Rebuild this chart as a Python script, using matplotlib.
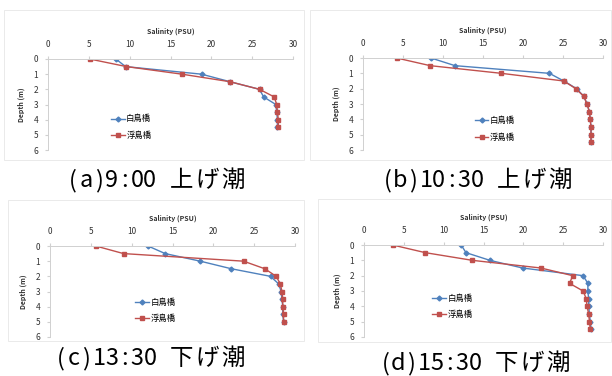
import numpy as np
import matplotlib
matplotlib.use('Agg')
import matplotlib.pyplot as plt
from matplotlib.patches import Rectangle

plt.rcParams['font.family'] = ['Noto Sans CJK JP', 'DejaVu Sans']

### Data (salinity in PSU, depth in m)
depth_a = [0, 0.5, 1, 1.5, 2, 2.5, 3, 3.5, 4, 4.5]
shiratori_a = [8.3, 9.5, 18.8, 22.3, 25.9, 26.4, 27.9, 28.0, 28.1, 28.1]
ukishima_a = [5.1, 9.6, 16.4, 22.3, 25.9, 27.7, 28.0, 28.1, 28.2, 28.2]

depth_b = [0, 0.5, 1, 1.5, 2, 2.5, 3, 3.5, 4, 4.5, 5, 5.5]
shiratori_b = [8.5, 11.5, 23.3, 25.1, 26.7, 27.6, 28.0, 28.3, 28.4, 28.5, 28.5, 28.5]
ukishima_b = [4.2, 8.4, 17.3, 25.1, 26.6, 27.6, 28.0, 28.3, 28.4, 28.5, 28.5, 28.5]

depth_c = [0, 0.5, 1, 1.5, 2, 2.5, 3, 3.5, 4, 4.5, 5]
shiratori_c = [12.0, 14.1, 18.4, 22.2, 27.0, 28.0, 28.3, 28.4, 28.5, 28.5, 28.6]
ukishima_c = [5.6, 9.0, 23.7, 26.3, 27.7, 28.2, 28.4, 28.5, 28.5, 28.6, 28.6]

depth_d = [0, 0.5, 1, 1.5, 2, 2.5, 3, 3.5, 4, 4.5, 5, 5.5]
shiratori_d = [12.2, 12.8, 15.8, 19.9, 27.5, 28.1, 28.1, 28.2, 28.2, 28.3, 28.4, 28.5]
ukishima_d = [3.6, 7.7, 13.6, 22.2, 26.2, 25.8, 27.5, 27.9, 28.0, 28.2, 28.3, 28.4]

captions = ['(a)9:00 上げ潮', '(b)10:30 上げ潮',
            '(c)13:30 下げ潮', '(d)15:30 下げ潮']
series_names = ['白鳥橋', '浮島橋']
x_ticks = [0, 5, 10, 15, 20, 25, 30]
y_ticks = [0, 1, 2, 3, 4, 5, 6]

W, H = 612, 376
fig = plt.figure(figsize=(W / 100, H / 100), dpi=100)

# layout in pixels: axes (left, top, right, bottom), legend centre (axes frac),
# caption centre x / baseline y, chart area box
panels = [
    dict(ax=(48, 59, 293, 150), leg=(0.34, 0.25), cap=(156, 187), box=(4, 10, 304, 160),
         depth=depth_a, s1=shiratori_a, s2=ukishima_a),
    dict(ax=(363, 58, 603, 150), leg=(0.55, 0.23), cap=(477, 187), box=(310, 10, 611, 160),
         depth=depth_b, s1=shiratori_b, s2=ukishima_b),
    dict(ax=(50, 246, 295, 337), leg=(0.43, 0.29), cap=(150, 365), box=(8, 200, 304, 341),
         depth=depth_c, s1=shiratori_c, s2=ukishima_c),
    dict(ax=(364, 245, 603, 337), leg=(0.37, 0.33), cap=(475, 370), box=(318, 199, 611, 342),
         depth=depth_d, s1=shiratori_d, s2=ukishima_d),
]

blue = '#4F81BD'
red = '#C0504D'
grey_txt = '#333333'
cap_em = 25.5  # caption em size in pixels (monospaced gothic look)


def draw_caption(text, cx, base_y):
    # half-width cells for ascii, full-width for kana/kanji
    widths = [cap_em if ord(ch) > 0x2000 else cap_em / 2 for ch in text]
    x = cx - sum(widths) / 2
    for ch, w in zip(text, widths):
        fig.text((x + w / 2) / W, 1 - base_y / H, ch, ha='center', va='baseline',
                 fontsize=cap_em * 0.72 * 0.92, color='black')
        x += w


for p, cap in zip(panels, captions):
    bx0, by0, bx1, by1 = p['box']
    fig.patches.append(Rectangle((bx0 / W, 1 - by1 / H), (bx1 - bx0) / W, (by1 - by0) / H,
                                 transform=fig.transFigure, facecolor='white',
                                 edgecolor='#e6e6e6', lw=0.6, zorder=-1))
    l, t, r, b = p['ax']
    ax = fig.add_axes([l / W, 1 - b / H, (r - l) / W, (b - t) / H])
    ax.set_facecolor('none')
    ax.plot(p['s1'], p['depth'], color=blue, marker='D', ms=2.5, lw=1.0, label=series_names[0])
    ax.plot(p['s2'], p['depth'], color=red, marker='s', ms=3.0, lw=1.0, label=series_names[1])
    ax.set_xlim(0, 30)
    ax.set_ylim(6, 0)
    ax.set_xticks(x_ticks)
    ax.set_yticks(y_ticks)
    ax.xaxis.tick_top()
    ax.xaxis.set_label_position('top')
    for s in ['right', 'bottom']:
        ax.spines[s].set_visible(False)
    for s in ['top', 'left']:
        ax.spines[s].set_color('#d0d0d0')
        ax.spines[s].set_linewidth(0.7)
    ax.tick_params(axis='x', length=2, color='#d0d0d0', pad=5, labelsize=6, labelcolor=grey_txt)
    ax.tick_params(axis='y', length=2, color='#d0d0d0', pad=5, labelsize=6, labelcolor=grey_txt)
    ax.set_xlabel('Salinity (PSU)', fontsize=5, fontweight='bold', color=grey_txt, labelpad=5)
    ax.set_ylabel('Depth (m)', fontsize=5, fontweight='bold', color=grey_txt, labelpad=6)
    ax.legend(loc='center', bbox_to_anchor=p['leg'], frameon=False, fontsize=6,
              handlelength=1.6, handletextpad=0.2, labelspacing=0.9, borderpad=0)
    draw_caption(cap, p['cap'][0], p['cap'][1])

fig.savefig('out.png', dpi=100)
